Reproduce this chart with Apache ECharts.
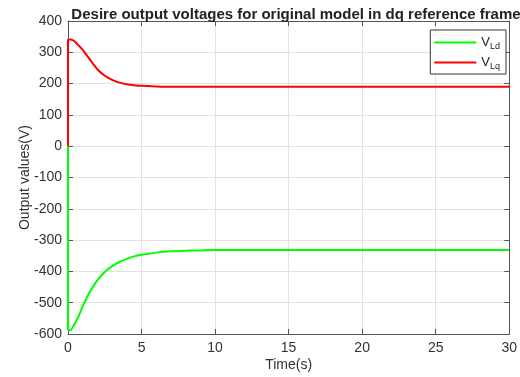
<!DOCTYPE html>
<html><head><meta charset="utf-8">
<script src="https://cdn.jsdelivr.net/npm/echarts@6/dist/echarts.min.js"></script>
<style>html,body{margin:0;padding:0;background:#fff}#c{width:520px;height:377px}</style>
</head><body><div id="c"></div>
<script>
const titleText = "Desire output voltages for original model in dq reference frame";
const xTicks = [0, 5, 10, 15, 20, 25, 30];
const yTicks = [-600, -500, -400, -300, -200, -100, 0, 100, 200, 300, 400];
const seriesNames = ["VLd", "VLq"];
const tLd = [0, 0, 0.15, 0.4, 0.7, 1.0, 1.3, 1.6, 2.0, 2.5, 3.0, 3.5, 4.0, 4.5, 5, 6, 7, 8, 9, 10, 15, 20, 25, 30];
const vLd = [0, -585, -588, -572, -545, -512, -482, -456, -428, -402, -383, -370, -360, -352, -347, -340, -336, -334, -333, -332, -332, -332, -332, -332];
const tLq = [0, 0, 0.2, 0.5, 0.8, 1.0, 1.3, 1.6, 2.0, 2.5, 3.0, 3.5, 4.0, 4.5, 5, 6, 7, 10, 15, 20, 25, 30];
const vLq = [0, 340, 341, 333, 318, 308, 289, 270, 246, 225, 212, 203, 198, 195, 193, 191, 190, 190, 190, 190, 190, 190];

const pairs = (t, v) => t.map((x, i) => [x, v[i]]);
const chart = echarts.init(document.getElementById('c'));
const font = 'Liberation Sans, Arial, sans-serif';
const frame = {show: true, onZero: false, lineStyle: {color: '#555', width: 1}};
const tick = {show: true, inside: true, length: 5, lineStyle: {color: '#555'}};
chart.setOption({
  animation: false,
  backgroundColor: '#fff',
  title: {text: titleText, left: 291, textAlign: 'center', top: 2,
    textStyle: {fontFamily: font, fontWeight: 'bold', fontSize: 15, color: '#222'}},
  grid: {left: 68, right: 4, top: 21, bottom: 42, show: false},
  legend: {
    right: 14, top: 30, orient: 'vertical', backgroundColor: '#fff',
    borderColor: '#333', borderWidth: 1, borderRadius: 0, padding: [6, 6, 3, 4],
    itemGap: 5, itemWidth: 42, itemHeight: 2, icon: 'rect',
    data: seriesNames,
    formatter: n => '{v|V}{s|' + n.slice(1) + '}',
    textStyle: {fontFamily: font, color: '#222',
      rich: {v: {fontSize: 13, fontFamily: font, color: '#222'},
             s: {fontSize: 9, fontFamily: font, color: '#222', padding: [8, 0, 0, 0]}}}
  },
  xAxis: [
    {type: 'value', min: 0, max: 30, interval: 5, position: 'bottom',
      name: 'Time(s)', nameLocation: 'middle', nameGap: 24, nameMoveOverlap: false,
      nameTextStyle: {fontFamily: font, fontSize: 14, color: '#333'},
      axisLine: frame, axisTick: tick,
      axisLabel: {fontFamily: font, fontSize: 14, color: '#333', margin: 7},
      splitLine: {show: true, lineStyle: {color: '#e2e2e2', width: 1}}},
    {type: 'value', min: 0, max: 30, interval: 5, position: 'top',
      axisLine: frame, axisTick: tick,
      axisLabel: {show: false}, splitLine: {show: false}}
  ],
  yAxis: [
    {type: 'value', min: -600, max: 400, interval: 100, position: 'left',
      name: 'Output values(V)', nameLocation: 'middle', nameGap: 36, nameMoveOverlap: false,
      nameTextStyle: {fontFamily: font, fontSize: 14, color: '#333'},
      axisLine: frame, axisTick: tick,
      axisLabel: {fontFamily: font, fontSize: 14, color: '#333', margin: 6,
        formatter: v => yTicks.includes(v) ? String(v) : ''},
      splitLine: {show: true, lineStyle: {color: '#e2e2e2', width: 1}}},
    {type: 'value', min: -600, max: 400, interval: 100, position: 'right',
      axisLine: frame, axisTick: tick,
      axisLabel: {show: false}, splitLine: {show: false}}
  ],
  series: [
    {name: 'VLd', type: 'line', data: pairs(tLd, vLd), showSymbol: false, smooth: 0.25,
      color: '#00ff00', lineStyle: {width: 2, color: '#00ff00'}, xAxisIndex: 0, yAxisIndex: 0, z: 3},
    {name: 'VLq', type: 'line', data: pairs(tLq, vLq), showSymbol: false, smooth: 0.25,
      color: '#ff0000', lineStyle: {width: 2, color: '#ff0000'}, xAxisIndex: 0, yAxisIndex: 0, z: 4}
  ]
});
</script></body></html>
